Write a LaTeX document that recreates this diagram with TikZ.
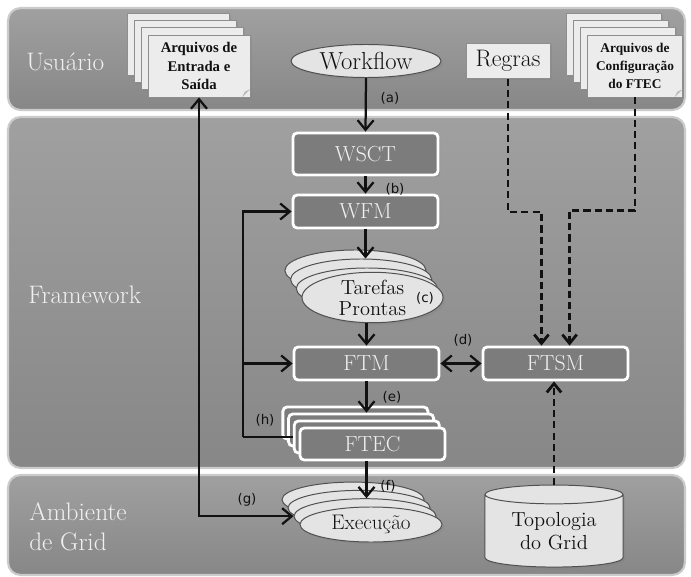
\documentclass[tikz,border=0pt]{standalone}
\usepackage{fontspec}
\newfontfamily\labelfont{DejaVu Sans}
\newfontfamily\pagefont{Liberation Serif}
\usetikzlibrary{arrows.meta,shapes.geometric,shadows}
\definecolor{ink}{HTML}{111111}
\definecolor{bandtop}{HTML}{A0A0A0}
\definecolor{bandlow}{HTML}{878787}
\definecolor{bandedge}{HTML}{CBCBCB}
\definecolor{bandink}{HTML}{F0F0F0}
\definecolor{module}{HTML}{7C7C7C}
\definecolor{page}{HTML}{ECECEC}
\definecolor{pageedge}{HTML}{8E8E8E}
\definecolor{pagecurl}{HTML}{B8B8B8}
\definecolor{blob}{HTML}{E4E4E4}
\definecolor{blobedge}{HTML}{505050}

\begin{document}
\begin{tikzpicture}[
  x=0.025cm, y=-0.025cm,
  band/.style={rounded corners=9pt, draw=bandedge, line width=1.5pt,
    top color=bandtop, bottom color=bandlow},
  bandtext/.style={text=bandink, font=\fontsize{18}{21}\selectfont,
    align=left, anchor=west, inner sep=0pt},
  module/.style={rectangle, rounded corners=3pt, draw=white, line width=2pt,
    fill=module, text=bandink, font=\fontsize{15.5}{17}\selectfont,
    minimum width=3.625cm, minimum height=0.825cm, inner sep=0pt,
    drop shadow={shadow xshift=1.5pt, shadow yshift=-1.5pt, opacity=.35}},
  page/.style={rectangle, draw=pageedge, line width=0.6pt, fill=page,
    inner sep=0pt, align=center, text=ink,
    drop shadow={shadow xshift=1.2pt, shadow yshift=-1.2pt, opacity=.3}},
  blob/.style={ellipse, draw=blobedge, line width=0.7pt, fill=blob,
    inner sep=0pt, align=center, text=ink,
    drop shadow={shadow xshift=1.5pt, shadow yshift=-1.5pt, opacity=.3}},
  tag/.style={font=\labelfont\fontsize{9.5}{11}\selectfont, text=ink, inner sep=1pt},
  arrow/.style={-{Straight Barb[length=2.4mm,width=4mm]}, line width=1.6pt, draw=ink},
  twoway/.style={{Straight Barb[length=2.4mm,width=4mm]}-{Straight Barb[length=2.4mm,width=4mm]},
    line width=1.6pt, draw=ink},
  line/.style={line width=1.6pt, draw=ink},
  dasharrow/.style={-{Straight Barb[length=2.2mm,width=3.6mm]}, line width=2pt,
    draw=ink, dash pattern=on 5pt off 3pt}
]
\useasboundingbox[fill=white] (0,0) rectangle (691,577);

% bands
\draw[band] (8,8) rectangle (685,110);
\draw[band] (8,117) rectangle (685,468);
\draw[band] (8,475) rectangle (685,575);
\node[bandtext] (lusr) at (26,62) {Usuário};
\node[bandtext] (lfw) at (28,295) {Framework};
\node[bandtext] (lgrid) at (29,527) {Ambiente\\de Grid};

% Usuario
\foreach \i in {3,2,1}
  \node[page, minimum width=2.55cm, minimum height=1.55cm] (es\i) at (199-7*\i,66-7.3*\i) {};
\node[page, minimum width=2.55cm, minimum height=1.55cm,
  font=\pagefont\bfseries\fontsize{10.5}{13}\selectfont] (es) at (199,66)
  {Arquivos de\\Entrada e\\Saída};
\fill[pagecurl] ([xshift=-6pt]es.south east) -- ([yshift=6pt]es.south east) -- ([shift={(-4pt,4pt)}]es.south east) -- cycle;

\node[blob, minimum width=3.75cm, minimum height=0.825cm,
  font=\fontsize{17.5}{19}\selectfont] (wf) at (366,61) {Workflow};
\node[page, minimum width=2.1cm, minimum height=0.875cm,
  font=\fontsize{17}{19}\selectfont] (regras) at (508,61) {Regras};

\foreach \i in {3,2,1}
  \node[page, minimum width=2.375cm, minimum height=1.55cm] (cfg\i) at (635-7*\i,66-7.3*\i) {};
\node[page, minimum width=2.375cm, minimum height=1.55cm,
  font=\pagefont\bfseries\fontsize{9.5}{13}\selectfont] (cfg) at (635,66)
  {Arquivos de\\Configuração\\do FTEC};
\fill[pagecurl] ([xshift=-6pt]cfg.south east) -- ([yshift=6pt]cfg.south east) -- ([shift={(-4pt,4pt)}]cfg.south east) -- cycle;

% Framework
\node[module, minimum height=1.05cm] (wsct) at (365.5,154) {WSCT};
\node[module] (wfm) at (365.5,211.5) {WFM};
\foreach \i in {3,2,1}
  \node[blob, minimum width=3.525cm, minimum height=1.025cm] (tp\i) at (372.5-5.7*\i,297.5-9*\i) {};
\node[blob, minimum width=3.525cm, minimum height=1.025cm,
  font=\fontsize{14.5}{15}\selectfont] (tp) at (372.5,297.5) {Tarefas\\Prontas};
\node[module] (ftm) at (366.5,363.5) {FTM};
\node[module] (ftsm) at (555.5,363.5) {FTSM};
\foreach \i in {3,2,1}
  \node[module, minimum height=0.8cm] (ftec\i) at (372.5-5.7*\i,444-7*\i) {};
\node[module, minimum height=0.8cm] (ftec) at (372.5,444) {FTEC};

% Ambiente de Grid
\foreach \i in {3,2,1}
  \node[blob, minimum width=3.55cm, minimum height=0.875cm] (ex\i) at (371-6*\i,524.5-8.3*\i) {};
\node[blob, minimum width=3.55cm, minimum height=0.875cm,
  font=\fontsize{15}{16}\selectfont] (ex) at (371,524.5) {Execução};
\node[cylinder, shape border rotate=90, aspect=0.22, draw=blobedge, line width=0.7pt,
  fill=blob, minimum width=3.45cm, minimum height=2.05cm, align=center, text=ink,
  font=\fontsize{14.5}{16.5}\selectfont, inner sep=0pt,
  drop shadow={shadow xshift=1.5pt, shadow yshift=-1.5pt, opacity=.3}]
  (topo) at (554,531) {Topologia\\do Grid};

% connectors
\draw[arrow] (wf.south) -- (wsct.north);
\draw[arrow] (wsct.south) -- (wfm.north);
\draw[arrow] (wfm.south) -- (wfm.south |- tp2.north);
\draw[arrow] (ftm.north |- tp.south) -- (ftm.north);
\draw[twoway] (ftm.east) -- (ftsm.west);
\draw[arrow] (ftm.south) -- (ftm.south |- ftec2.north);
\draw[arrow] (ftm.south |- ftec.south) -- (ftm.south |- ex1.north);

\coordinate (hx) at (243,437);
\draw[line] (ftec1.west) -- (hx);
\draw[arrow] (hx) |- (wfm.west);
\draw[arrow] (hx |- ftm.west) -- (ftm.west);
\draw[twoway] (es.south) |- (ex1.west);

\draw[dasharrow] (regras.south) -- ++(0,133) -| ([xshift=-10]ftsm.north);
\draw[dasharrow] (cfg.south) -- ++(0,113) -| ([xshift=10]ftsm.north);
\draw[dasharrow] (topo.north) -- (topo.north |- ftsm.south);

% labels
\node[tag] (ta) at (390,98) {(a)};
\node[tag] (tb) at (395,189) {(b)};
\node[tag] (tc) at (425,298) {(c)};
\node[tag] (td) at (463,340) {(d)};
\node[tag] (te) at (392,397) {(e)};
\node[tag] (tf) at (388,486) {(f)};
\node[tag] (tg) at (247,500) {(g)};
\node[tag] (th) at (265,420) {(h)};

\end{tikzpicture}
\end{document}
